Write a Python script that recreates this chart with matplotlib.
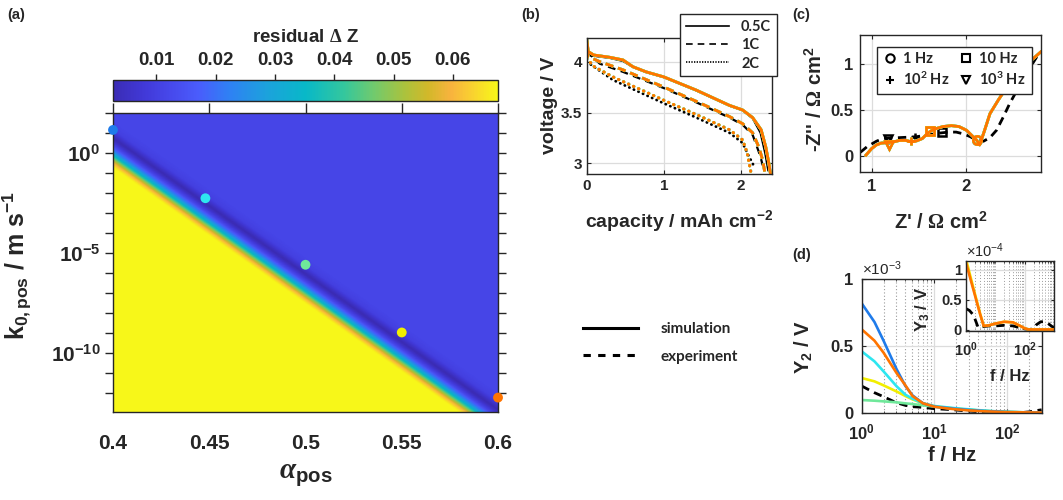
import numpy as np
import matplotlib
matplotlib.use("Agg")
import matplotlib.pyplot as plt
from matplotlib.colors import LinearSegmentedColormap
from matplotlib.lines import Line2D
from matplotlib.ticker import FixedLocator, FuncFormatter, NullFormatter

TEXT = "#262626"
GRID = "#dcdcdc"
MINOR_GRID = "#9a9a9a"

plt.rcParams.update({
    "font.family": ["Liberation Sans", "DejaVu Sans"],
    "font.weight": "bold",
    "axes.labelweight": "bold",
    "text.color": TEXT,
    "axes.edgecolor": TEXT,
    "axes.labelcolor": TEXT,
    "xtick.color": TEXT,
    "ytick.color": TEXT,
    "mathtext.fontset": "custom",
    "mathtext.rm": "Liberation Serif",
    "mathtext.it": "Liberation Serif:italic",
    "mathtext.bf": "Liberation Sans:bold",
    "axes.linewidth": 1.0,
})

# ---------------- data ----------------
# (a) parameter map
alpha_pos = [0.4, 0.448, 0.5, 0.55, 0.6]
k0_pos = [10**1.13, 10**-2.28, 10**-5.6, 10**-8.98, 10**-12.23]
valley_alpha = [0.4, 0.6]
valley_logk = [0.75, -12.81]
# residual (fraction of colour range) across the valley, offset in decades
prof_offset = [-30, -1.45, -1.25, -1.05, -0.85, -0.62, -0.38, -0.16, 0.0, 0.15, 0.4, 0.8, 30]
prof_level = [1.0, 1.0, 0.9, 0.72, 0.5, 0.3, 0.15, 0.05, 0.0, 0.04, 0.11, 0.135, 0.135]
res_min, res_max = 0.0027, 0.0676

SIM_COLORS = ["#1f7bea", "#2ee6f0", "#6fe89a", "#f2ee00", "#ff7400"]

# (b) discharge curves
cap_05_sim = [0, 0.02, 0.09, 0.30, 0.47, 0.60, 0.77, 1.0, 1.42, 1.85, 2.02, 2.15, 2.26, 2.32, 2.36, 2.38]
v_05_sim = [4.23, 4.10, 4.066, 4.043, 4.017, 3.95, 3.90, 3.85, 3.72, 3.57, 3.525, 3.45, 3.33, 3.16, 3.0, 2.9]
cap_1_sim = [0, 0.02, 0.17, 0.47, 1.0, 1.42, 1.85, 2.02, 2.15, 2.23, 2.28, 2.31]
v_1_sim = [4.12, 4.05, 4.0, 3.92, 3.75, 3.61, 3.46, 3.39, 3.30, 3.16, 3.03, 2.9]
cap_2_sim = [0, 0.1, 0.34, 1.0, 1.42, 1.85, 2.02, 2.08, 2.12, 2.13]
v_2_sim = [4.03, 3.95, 3.85, 3.62, 3.48, 3.33, 3.23, 3.10, 2.94, 2.9]
cap_05_exp = [0, 0.05, 0.3, 0.47, 0.6, 0.77, 1.0, 1.42, 1.85, 2.02, 2.15, 2.25, 2.31, 2.35]
v_05_exp = [4.11, 4.06, 4.035, 4.005, 3.945, 3.895, 3.845, 3.715, 3.565, 3.52, 3.44, 3.30, 3.10, 2.93]
cap_1_exp = [0, 0.17, 0.47, 1.0, 1.42, 1.85, 2.02, 2.15, 2.25, 2.28]
v_1_exp = [4.10, 3.98, 3.90, 3.74, 3.60, 3.45, 3.38, 3.28, 3.07, 2.98]
cap_2_exp = [0, 0.34, 1.0, 1.42, 1.85, 2.02, 2.10, 2.15, 2.17]
v_2_exp = [4.0, 3.82, 3.59, 3.45, 3.30, 3.20, 3.07, 3.0, 2.96]

# (c) Nyquist
zre_sim = [0.94, 1.00, 1.05, 1.10, 1.16, 1.22, 1.30, 1.36, 1.42, 1.48, 1.54, 1.60, 1.66, 1.76, 1.85,
           1.93, 2.01, 2.07, 2.12, 2.15, 2.20, 2.26, 2.35, 2.44, 2.52, 2.61, 2.70, 2.80]
zim_sim = [0.01, 0.08, 0.12, 0.14, 0.145, 0.15, 0.17, 0.17, 0.155, 0.165, 0.19, 0.25, 0.29, 0.32, 0.33,
           0.32, 0.28, 0.22, 0.17, 0.12, 0.27, 0.46, 0.61, 0.75, 0.85, 0.95, 1.04, 1.13]
zre_exp = [0.88, 0.95, 1.05, 1.12, 1.20, 1.30, 1.40, 1.48, 1.60, 1.73, 1.82, 1.90, 1.98, 2.05, 2.12,
           2.19, 2.26, 2.33, 2.40, 2.47, 2.54, 2.61, 2.68, 2.76, 2.80]
zim_exp = [0.04, 0.10, 0.16, 0.19, 0.195, 0.20, 0.205, 0.21, 0.23, 0.25, 0.26, 0.26, 0.24, 0.21, 0.17,
           0.16, 0.20, 0.28, 0.42, 0.57, 0.70, 0.83, 0.95, 1.08, 1.13]
freq_labels = ["1 Hz", "10 Hz", r"10$\mathregular{^2}$ Hz", r"10$\mathregular{^3}$ Hz"]
freq_markers = ["o", "s", "+", "v"]
mark_re_sim = [2.12, 1.62, 1.42, 1.18]
mark_im_sim = [0.17, 0.27, 0.16, 0.12]
mark_re_exp = [2.12, 1.745, 1.46, 1.17]
mark_im_exp = [0.17, 0.26, 0.21, 0.19]

# (d) second harmonic Y2 and third harmonic Y3
f_y2 = [1, 1.5, 2, 3, 4, 5, 7, 10, 15, 20, 30, 50, 100, 200, 300]
y2_blue = [0.82, 0.68, 0.54, 0.33, 0.20, 0.13, 0.07, 0.045, 0.035, 0.028, 0.02, 0.012, 0.005, 0.002, 0.001]
y2_cyan = [0.46, 0.385, 0.31, 0.20, 0.135, 0.105, 0.07, 0.05, 0.04, 0.033, 0.025, 0.015, 0.006, 0.002, 0.001]
y2_green = [0.095, 0.09, 0.085, 0.078, 0.07, 0.065, 0.055, 0.045, 0.036, 0.03, 0.022, 0.013, 0.005, 0.002, 0.001]
y2_yellow = [0.26, 0.235, 0.205, 0.16, 0.125, 0.10, 0.07, 0.048, 0.037, 0.03, 0.022, 0.013, 0.005, 0.002, 0.001]
y2_orange = [0.625, 0.54, 0.45, 0.30, 0.205, 0.125, 0.07, 0.045, 0.032, 0.025, 0.017, 0.01, 0.004, 0.002, 0.001]
f_y2_exp = [1, 1.5, 2, 3, 4, 5, 7, 10, 15, 20, 30, 50, 100, 150, 200, 250, 300]
y2_exp = [0.2, 0.15, 0.12, 0.075, 0.055, 0.045, 0.04, 0.03, 0.025, 0.02, 0.012, 0.005, 0.0, 0.0, 0.006, 0.015, 0.022]

f_y3 = [1, 1.5, 2, 3, 4, 6, 10, 20, 40, 70, 100, 130, 200, 400, 1000]
y3_yellow = [1.18, 0.84, 0.60, 0.27, 0.06, 0.07, 0.10, 0.13, 0.12, 0.06, 0.02, 0.0, 0.0, 0.0, 0.0]
y3_orange = [1.12, 0.80, 0.577, 0.26, 0.06, 0.07, 0.10, 0.13, 0.12, 0.06, 0.02, 0.0, 0.0, 0.0, 0.0]
f_y3_exp = [1, 1.3, 1.8, 2.6, 4, 6, 10, 20, 40, 70, 100, 150, 200, 250, 350, 450, 600, 800, 1000]
y3_exp = [0.35, 0.32, 0.24, 0.03, 0.05, 0.06, 0.06, 0.07, 0.06, 0.03, 0.01, 0.0, 0.02, 0.08, 0.13, 0.13, 0.11, 0.06, 0.03]

# parula-like colour map
cmap_pos = [0.0, 0.08, 0.15, 0.22, 0.30, 0.40, 0.50, 0.60, 0.68, 0.76, 0.82, 0.88, 0.94, 1.0]
cmap_hex = ["#3b2cb5", "#4139d8", "#4749ec", "#4a5cfc", "#2f80f4", "#1ca2dc", "#08b8c8",
            "#34c79d", "#72ca6c", "#acc23c", "#d2b82a", "#f8b33e", "#f9d42e", "#f7f719"]
parula = LinearSegmentedColormap.from_list("parula_like", list(zip(cmap_pos, cmap_hex)))

DOTTED = (0, (0.1, 1.7))

fig = plt.figure(figsize=(10.63, 5.0), dpi=100)

# ---------------- (a) ----------------
ax_a = fig.add_axes([0.1063, 0.176, 0.3622, 0.599])
a_grid = np.linspace(0.4, 0.6, 400)
lk_grid = np.linspace(-13.2, 2.2, 500)
A, LK = np.meshgrid(a_grid, lk_grid)
dist = LK - np.interp(A, valley_alpha, valley_logk)
Z = res_min + np.interp(dist, prof_offset, prof_level) * (res_max - res_min)
mesh = ax_a.pcolormesh(A, 10**LK, Z, cmap=parula, vmin=res_min, vmax=res_max,
                       shading="gouraud", rasterized=True)
ax_a.set_yscale("log")
ax_a.set_xlim(0.4, 0.6)
ax_a.set_ylim(10**-12.95, 10**2.0)
ax_a.scatter(alpha_pos, k0_pos, s=50, c=SIM_COLORS, zorder=5, clip_on=False, linewidths=0)
ax_a.set_xticks([0.4, 0.45, 0.5, 0.55, 0.6])
ax_a.set_xticklabels(["0.4", "0.45", "0.5", "0.55", "0.6"])
ax_a.yaxis.set_major_locator(FixedLocator([10.0**e for e in range(-13, 3)]))
ax_a.yaxis.set_major_formatter(FuncFormatter(
    lambda v, p: r"$\mathregular{10^{%d}}$" % round(np.log10(v)) if round(np.log10(v)) % 5 == 0 else ""))
ax_a.yaxis.set_minor_formatter(NullFormatter())
ax_a.tick_params(axis="x", bottom=False, top=True, labelbottom=True, direction="out",
                 length=7.5, width=1, labelsize=15, pad=8.5)
ax_a.tick_params(axis="y", left=True, right=True, direction="out", length=6, width=1,
                 labelsize=15, pad=3)
ax_a.tick_params(which="minor", left=False, right=False)
ax_a.set_ylabel(r"$\mathregular{k_{0,pos}}$ / m s$\mathregular{^{-1}}$", fontsize=18)
ax_a.yaxis.set_label_coords(-0.205, 0.49)
ax_a.set_xlabel(r"$\alpha_{\mathregular{pos}}$", fontsize=21)
ax_a.xaxis.set_label_coords(0.5, -0.16)

cax = fig.add_axes([0.1063, 0.798, 0.3622, 0.042])
cbar = fig.colorbar(mesh, cax=cax, orientation="horizontal")
cbar.set_ticks([0.01, 0.02, 0.03, 0.04, 0.05, 0.06])
cbar.ax.xaxis.set_ticks_position("top")
cbar.ax.xaxis.set_label_position("top")
cbar.ax.tick_params(direction="out", length=4, width=1, labelsize=13.5, pad=4)
cbar.outline.set_linewidth(1.0)
cbar.set_label(r"residual $\Delta$ Z", fontsize=13.5, labelpad=7)

# ---------------- (b) ----------------
ax_b = fig.add_axes([0.5519, 0.652, 0.1743, 0.2726])
ax_b.plot(cap_05_exp, v_05_exp, color="k", lw=1.3, ls="-")
ax_b.plot(cap_1_exp, v_1_exp, color="k", lw=1.6, ls=(0, (3.5, 2.5)))
ax_b.plot(cap_2_exp, v_2_exp, color="k", lw=2.0, ls=DOTTED, dash_capstyle="round")
for col in SIM_COLORS:
    ax_b.plot(cap_05_sim, v_05_sim, color=col, lw=2.0, ls="-")
    ax_b.plot(cap_1_sim, v_1_sim, color=col, lw=2.0, ls=(0, (2.9, 1.8)))
    ax_b.plot(cap_2_sim, v_2_sim, color=col, lw=2.2, ls=DOTTED, dash_capstyle="round")
ax_b.set_xlim(0, 2.4)
ax_b.set_ylim(2.895, 4.236)
ax_b.set_xticks([0, 1, 2])
ax_b.set_yticks([3, 3.5, 4])
ax_b.set_yticklabels(["3", "3.5", "4"])
ax_b.grid(color=GRID, lw=0.9)
ax_b.set_axisbelow(True)
ax_b.tick_params(direction="in", length=3, labelsize=11, top=True, right=True)
ax_b.set_ylabel("voltage / V", fontsize=14)
ax_b.yaxis.set_label_coords(-0.155, 0.5)
ax_b.set_xlabel(r"capacity / mAh cm$\mathregular{^{-2}}$", fontsize=14)
ax_b.xaxis.set_label_coords(0.5, -0.25)
rate_handles = [Line2D([], [], color="k", lw=1.2, ls="-"),
                Line2D([], [], color="k", lw=1.2, ls=(0, (4, 3))),
                Line2D([], [], color="k", lw=1.2, ls=(0, (0.8, 0.8)))]
leg_b = fig.legend(rate_handles, ["0.5C", "1C", "2C"], loc="upper right",
                   bbox_to_anchor=(0.731, 0.972), borderaxespad=0, fancybox=False,
                   framealpha=1, edgecolor=TEXT, handlelength=3.0, labelspacing=0.3,
                   prop={"family": "Lato", "weight": "bold", "size": 10.5})
leg_b.get_frame().set_linewidth(1.0)

# ---------------- (c) ----------------
ax_c = fig.add_axes([0.809, 0.6554, 0.17, 0.2746])
ax_c.plot(zre_exp, zim_exp, color="k", lw=2.0, ls=(0, (3, 2)))
for m, xr, yi in zip(freq_markers, mark_re_exp, mark_im_exp):
    ax_c.plot(xr, yi, marker=m, ms=6, mfc="none", mec="k", mew=1.8, ls="none")
for col in SIM_COLORS:
    ax_c.plot(zre_sim, zim_sim, color=col, lw=2.0)
    for m, xr, yi in zip(freq_markers, mark_re_sim, mark_im_sim):
        ax_c.plot(xr, yi, marker=m, ms=6, mfc="none", mec=col, mew=1.8, ls="none")
ax_c.set_xlim(0.876, 2.80)
ax_c.set_ylim(-0.177, 1.315)
ax_c.set_xticks([1, 2])
ax_c.set_yticks([0, 0.5, 1])
ax_c.set_yticklabels(["0", "0.5", "1"])
ax_c.grid(color=GRID, lw=0.9)
ax_c.set_axisbelow(True)
ax_c.tick_params(direction="in", length=3, labelsize=12, top=True, right=True, pad=5)
ax_c.set_ylabel(r"-Z'' / $\Omega$ cm$\mathregular{^{2}}$", fontsize=14.5)
ax_c.yaxis.set_label_coords(-0.19, 0.53)
ax_c.set_xlabel(r"Z' / $\Omega$ cm$\mathregular{^{2}}$", fontsize=14.5)
ax_c.xaxis.set_label_coords(0.45, -0.28)
freq_handles = [Line2D([], [], marker=m, ms=6, mfc="none", mec="k", mew=1.5, ls="none")
                for m in freq_markers]
order = [0, 2, 1, 3]
leg_c = fig.legend([freq_handles[i] for i in order], [freq_labels[i] for i in order],
                   ncol=2, loc="upper left", bbox_to_anchor=(0.825, 0.907), borderaxespad=0,
                   fancybox=False, framealpha=1, edgecolor=TEXT, handlelength=1.0,
                   handletextpad=0.4, columnspacing=0.6, labelspacing=0.3,
                   prop={"family": "Lato", "weight": "bold", "size": 10.5})
leg_c.get_frame().set_linewidth(1.0)

# ---------------- (d) ----------------
ax_d = fig.add_axes([0.8106, 0.1746, 0.1693, 0.2668])
ax_d.plot(f_y2_exp, np.array(y2_exp), color="k", lw=2.0, ls=(0, (3, 2)))
for col, y2 in zip(["#6fe89a", "#f2ee00", "#2ee6f0", "#1f7bea", "#ff7400"],
                   [y2_green, y2_yellow, y2_cyan, y2_blue, y2_orange]):
    ax_d.plot(f_y2, y2, color=col, lw=1.9)
ax_d.set_xscale("log")
ax_d.set_xlim(1, 300)
ax_d.set_ylim(0, 1)
ax_d.set_xticks([1, 10, 100])
ax_d.set_yticks([0, 0.5, 1])
ax_d.set_yticklabels(["0", "0.5", "1"])
ax_d.xaxis.set_minor_formatter(NullFormatter())
ax_d.grid(which="major", color=GRID, lw=0.9)
ax_d.grid(which="minor", axis="x", color=MINOR_GRID, lw=0.8, ls=(0, (1, 2)))
ax_d.set_axisbelow(True)
ax_d.tick_params(which="both", direction="in", length=3, labelsize=12, top=True, right=True)
ax_d.tick_params(axis="x", pad=7)
ax_d.tick_params(axis="y", pad=6)
ax_d.tick_params(which="minor", length=1.5)
ax_d.text(0.0, 1.01, r"$\mathregular{\times10^{-3}}$", transform=ax_d.transAxes,
          fontsize=11, fontweight="normal", ha="left", va="bottom")
ax_d.set_ylabel(r"Y$\mathregular{_2}$ / V", fontsize=14.5)
ax_d.yaxis.set_label_coords(-0.26, 0.49)
ax_d.set_xlabel("f / Hz", fontsize=14.5)
ax_d.xaxis.set_label_coords(0.5, -0.25)

ax_in = fig.add_axes([0.9088, 0.3386, 0.0828, 0.1394])
ax_in.plot(f_y3_exp, y3_exp, color="k", lw=2.0, ls=(0, (3, 2)))
ax_in.plot(f_y3, y3_yellow, color="#f2ee00", lw=1.9)
ax_in.plot(f_y3, y3_orange, color="#ff7400", lw=1.9)
ax_in.set_xscale("log")
ax_in.set_xlim(1, 1000)
ax_in.set_ylim(-0.02, 1.15)
ax_in.xaxis.set_major_locator(FixedLocator([1, 100]))
ax_in.xaxis.set_minor_locator(FixedLocator(
    [m * 10.0**e for e in range(0, 3) for m in range(2, 10)] + [10]))
ax_in.xaxis.set_minor_formatter(NullFormatter())
ax_in.set_yticks([0, 0.5, 1])
ax_in.set_yticklabels(["0", "0.5", "1"])
ax_in.grid(which="major", color=GRID, lw=0.9)
ax_in.grid(which="minor", axis="x", color=MINOR_GRID, lw=0.7, ls=(0, (1, 2)))
ax_in.set_axisbelow(True)
ax_in.tick_params(which="both", direction="in", length=2.5, labelsize=10.5, top=True, right=True)
ax_in.tick_params(axis="x", pad=7)
ax_in.tick_params(axis="y", pad=3)
ax_in.tick_params(which="minor", length=1.2)
ax_in.text(0.0, 1.01, r"$\mathregular{\times10^{-4}}$", transform=ax_in.transAxes,
           fontsize=10.5, fontweight="normal", ha="left", va="bottom")
ax_in.set_ylabel(r"Y$\mathregular{_3}$ / V", fontsize=12)
ax_in.yaxis.set_label_coords(-0.39, 0.3)
ax_in.set_xlabel("f / Hz", fontsize=12)
ax_in.xaxis.set_label_coords(0.5, -0.55)

# ---------------- shared line-style key ----------------
style_handles = [Line2D([], [], color="k", lw=2.2, ls="-"),
                 Line2D([], [], color="k", lw=2.2, ls=(0, (2.4, 2.4)))]
fig.legend(style_handles, ["simulation", "experiment"], loc="upper left",
           bbox_to_anchor=(0.5485, 0.356), frameon=False, borderpad=0, borderaxespad=0,
           handlelength=3.6, handletextpad=1.5, labelspacing=0.9,
           prop={"family": "Lato", "weight": "bold", "size": 11})

# panel letters
for x, y, s in [(0.0066, 0.97, "(a)"), (0.490, 0.97, "(b)"), (0.745, 0.97, "(c)"), (0.745, 0.49, "(d)")]:
    fig.text(x, y, s, fontsize=10.5, fontweight="bold", va="center", ha="left")

fig.savefig("out.png", dpi=100)
